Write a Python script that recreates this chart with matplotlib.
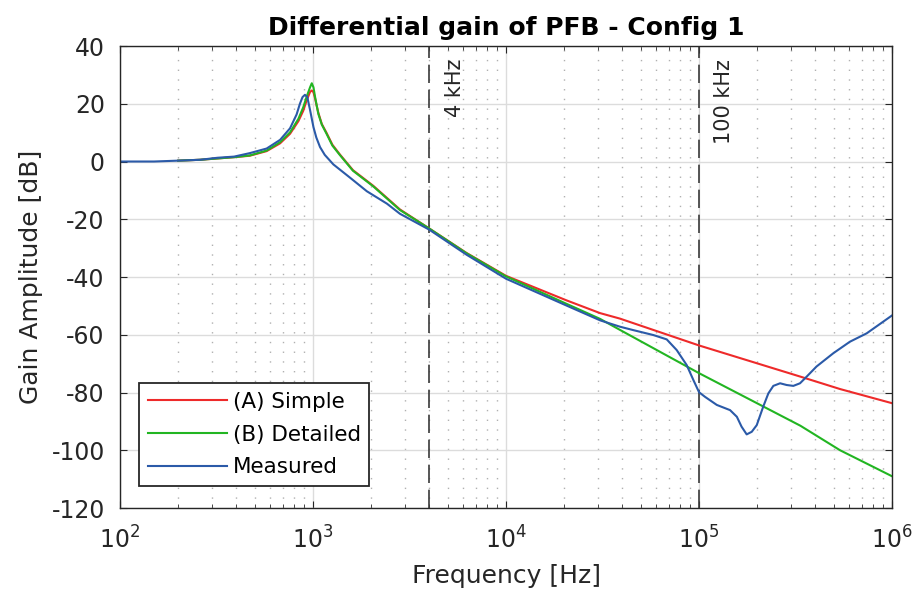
import matplotlib
matplotlib.use("Agg")
import matplotlib.pyplot as plt
from matplotlib.ticker import LogLocator, NullFormatter

plt.rcParams['font.family'] = ['DejaVu Sans']
plt.rcParams['mathtext.fontset'] = 'dejavusans'
plt.rcParams['axes.unicode_minus'] = False

# model curves (start at 200 Hz)
f_model = [200, 260, 390, 470, 575, 675, 760, 840, 890, 925, 965, 985, 1005,
           1025, 1045, 1065, 1110, 1175, 1260, 1375, 1610, 2050, 2820, 4000,
           6250, 10000, 20600, 30700, 38900, 100000, 335000, 538000, 1000000]
simple_db = [0.3, 0.6, 1.5, 2.0, 3.6, 6.3, 9.6, 14.0, 17.6, 21.0, 24.1, 24.6,
             24.0, 21.8, 19.2, 16.9, 13.0, 9.9, 5.8, 2.5, -3.0, -8.4, -16.6,
             -23.2, -31.7, -39.6, -48.1, -52.5, -54.4, -63.7, -74.5, -78.8,
             -83.7]
detailed_db = [0.3, 0.6, 1.5, 2.1, 3.8, 6.7, 10.1, 14.8, 18.8, 22.3, 25.7,
               27.1, 25.7, 22.3, 19.4, 16.5, 12.8, 9.6, 5.5, 2.3, -3.2, -8.6,
               -16.8, -23.2, -31.8, -39.8, -49.3, -54.5, -58.3, -73.3, -91.5,
               -100.0, -109.0]

# measured response
f_meas = [100, 150, 200, 260, 320, 390, 470, 575, 675, 760, 822, 855, 882, 908,
          934, 966, 1005, 1040, 1087, 1150, 1274, 1555, 1900, 2415, 2820, 4000,
          6250, 10000, 20600, 30700, 38900, 45700, 58000, 68000, 76600, 86300,
          93500, 100000, 107400, 123600, 144800, 157000, 166000, 176500, 187500,
          199000, 215000, 228600, 242600, 263000, 284500, 308000, 333500,
          361000, 406000, 496000, 605000, 739000, 1000000]
measured_db = [0, 0, 0.3, 0.6, 1.3, 1.7, 2.9, 4.5, 7.5, 11.5, 16.3, 20.0, 22.3,
               23.1, 22.3, 17.7, 11.9, 8.3, 5.0, 2.3, -1.0, -5.6, -10.3, -14.6,
               -18.1, -23.6, -32.3, -40.6, -49.9, -55.0, -57.2, -58.4, -60.1,
               -61.6, -65.3, -70.5, -75.7, -79.9, -81.5, -84.3, -86.1, -88.4,
               -91.8, -94.5, -93.6, -91.3, -84.9, -80.3, -77.7, -76.8, -77.4,
               -77.7, -76.8, -74.5, -71.0, -66.4, -62.4, -59.5, -53.3]

markers = [4000, 100000]
marker_labels = ["4 kHz", "100 kHz"]

fig = plt.figure(figsize=(9.17, 6.03), dpi=100)
ax = fig.add_axes([0.1309, 0.1575, 0.8419, 0.7662])

ax.semilogx(f_model, simple_db, color='#ee2a2a', lw=1.5, label='(A) Simple')
ax.semilogx(f_model, detailed_db, color='#22b522', lw=1.5, label='(B) Detailed')
ax.semilogx(f_meas, measured_db, color='#2b5aa8', lw=1.5, label='Measured')

for fm, lab in zip(markers, marker_labels):
    ax.axvline(fm, color='#3a3a3a', lw=1.2, ls=(0, (11, 4)), zorder=1)
    ax.text(fm * 1.2, 35.5, lab, rotation=90, ha='left', va='top', fontsize=15,
            color='#262626')

ax.set_xlim(1e2, 1e6)
ax.set_ylim(-120, 40)
ax.set_yticks(range(-120, 41, 20))
ax.xaxis.set_major_locator(LogLocator(base=10, numticks=10))
ax.xaxis.set_minor_locator(LogLocator(base=10, subs=range(2, 10), numticks=50))
ax.xaxis.set_minor_formatter(NullFormatter())

ax.grid(True, which='major', color='#dcdcdc', lw=1, ls='-')
ax.grid(True, which='minor', axis='x', color='#b0b0b0', lw=1, ls=(0, (1, 6)))
ax.set_axisbelow(True)

ax.tick_params(which='both', direction='in', top=True, right=True,
               labelsize=17, colors='#262626')
ax.tick_params(which='major', length=5)
ax.tick_params(which='minor', length=3)
ax.tick_params(axis='x', which='major', pad=13)
ax.tick_params(axis='y', which='major', pad=11)
for s in ax.spines.values():
    s.set_color('#262626')
    s.set_linewidth(1.0)

ax.set_xlabel('Frequency [Hz]', fontsize=18, color='#262626', labelpad=8)
ax.set_ylabel('Gain Amplitude [dB]', fontsize=18, color='#262626', labelpad=6)
ax.set_title('Differential gain of PFB - Config 1', fontsize=18,
             fontweight='bold', pad=8)

leg = ax.legend(loc='lower left', bbox_to_anchor=(0.0246, 0.0476),
                borderaxespad=0, fontsize=15.5, handlelength=3.7,
                handletextpad=0.25, labelspacing=0.6, fancybox=False,
                borderpad=0.4, framealpha=1, edgecolor='#262626')
leg.get_frame().set_linewidth(1.3)

fig.savefig('out.png', dpi=100)
